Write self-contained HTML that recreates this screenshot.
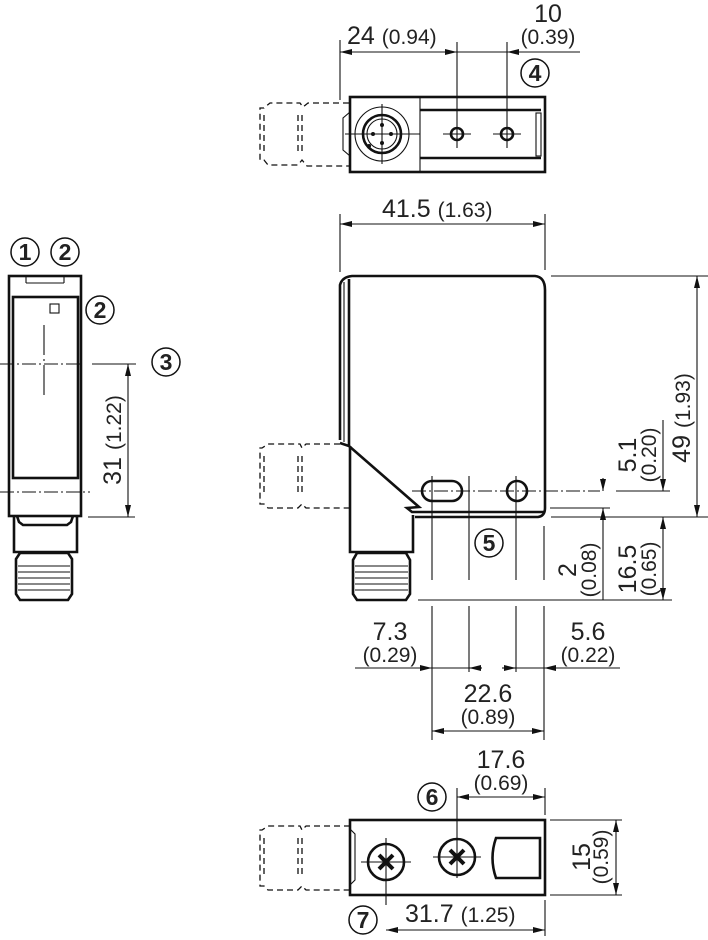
<!DOCTYPE html>
<html><head><meta charset="utf-8"><style>
html,body{margin:0;padding:0;background:#fff}
svg{display:block}
text{font-family:"Liberation Sans",sans-serif;fill:#222}
.b{fill:none;stroke:#111;stroke-width:2.6}
.t{fill:none;stroke:#111;stroke-width:1.1}
.d{fill:none;stroke:#111;stroke-width:1.3;stroke-dasharray:6 4}
.c{fill:none;stroke:#111;stroke-width:1;stroke-dasharray:14 3 2 3}
.n{font-size:25px}
.p{font-size:21px}
.k{fill:#fff;stroke:#111;stroke-width:1.5}
.kt{font-size:23px;font-weight:bold;text-anchor:middle}
</style></head><body>
<svg width="708" height="940" viewBox="0 0 708 940" xmlns="http://www.w3.org/2000/svg">
<defs>
<marker id="a" viewBox="0 0 12 6" refX="12" refY="3" markerWidth="12" markerHeight="6" markerUnits="userSpaceOnUse" orient="auto-start-reverse"><path d="M0,0L12,3L0,6z" fill="#111"/></marker>
</defs>

<!-- ===== TOP VIEW ===== -->
<line class="t" x1="340" y1="40" x2="340" y2="100"/>
<line class="t" x1="457" y1="42" x2="457" y2="148"/>
<line class="t" x1="507" y1="42" x2="507" y2="148"/>
<line class="t" x1="340" y1="52" x2="457" y2="52" marker-start="url(#a)" marker-end="url(#a)"/>
<line class="t" x1="457" y1="52" x2="580" y2="52"/>
<line class="t" x1="580" y1="52" x2="507" y2="52" marker-end="url(#a)"/>
<text class="n" x="347" y="44">24 <tspan class="p">(0.94)</tspan></text>
<text class="n" x="548" y="22" text-anchor="middle">10</text>
<text class="p" x="548" y="44" text-anchor="middle">(0.39)</text>
<circle class="k" cx="535" cy="73" r="14"/><text class="kt" x="535" y="81">4</text>
<rect class="b" x="350" y="97" width="195" height="75"/>
<line class="t" x1="420" y1="97" x2="420" y2="172"/>
<line class="b" x1="420" y1="110" x2="541" y2="110"/>
<line class="b" x1="420" y1="158" x2="541" y2="158"/>
<rect class="t" x="536" y="113" width="5" height="43"/>
<circle class="t" cx="382" cy="134" r="27"/>
<circle class="b" cx="382" cy="134" r="19"/>
<circle class="t" cx="382" cy="134" r="15"/>
<line class="t" x1="345" y1="134" x2="420" y2="134"/>
<line class="t" x1="382" y1="104" x2="382" y2="164"/>
<circle cx="373" cy="134" r="2" fill="#111"/><circle cx="391" cy="134" r="2" fill="#111"/><circle cx="382" cy="125" r="2" fill="#111"/><circle cx="382" cy="143" r="2" fill="#111"/><circle cx="369" cy="146" r="2" fill="#111"/>
<path class="t" d="M350,112 L343,118 L343,150 L350,156"/>
<circle class="b" cx="457" cy="134" r="6"/><line class="t" x1="443" y1="134" x2="471" y2="134"/>
<circle class="b" cx="507" cy="134" r="6"/><line class="t" x1="493" y1="134" x2="521" y2="134"/>
<path class="d" d="M349,103 L308,103 L303,107 L300,103 L270,103 L264,108 L260,108 L260,160 L264,160 L268,165 L298,165 L302,160 L307,166 L349,166"/>
<line class="d" x1="264" y1="115" x2="264" y2="155"/><line class="d" x1="298" y1="115" x2="298" y2="155"/><line class="d" x1="302" y1="115" x2="302" y2="155"/>

<!-- ===== FRONT VIEW ===== -->
<line class="t" x1="340" y1="214" x2="340" y2="272"/>
<line class="t" x1="545" y1="214" x2="545" y2="270"/>
<line class="t" x1="340" y1="224" x2="545" y2="224" marker-start="url(#a)" marker-end="url(#a)"/>
<text class="n" x="382" y="217">41.5 <tspan class="p">(1.63)</tspan></text>
<path class="b" d="M340,440 L340,285 Q342,277 352,276 L535,276 Q545,277 545,290 L545,508 Q545,516 538,517 L415,517"/>
<line class="t" x1="344" y1="282" x2="344" y2="442"/>
<line class="b" x1="349" y1="279" x2="349" y2="446"/>
<path class="b" d="M340,443 L349,446 L419,507 L407,508 L412,512 L545,512"/>
<path class="b" d="M350,446 L350,552 L413,552 L413,515"/>
<path class="b" d="M357,553 L353,560 L353,594 L357,600 L406,600 L410,594 L410,560 L406,553 Z"/>
<line class="t" x1="355" y1="566" x2="408" y2="566"/><line class="t" x1="355" y1="572" x2="408" y2="572"/><line class="t" x1="355" y1="578" x2="408" y2="578"/><line class="t" x1="355" y1="584" x2="408" y2="584"/><line class="t" x1="355" y1="590" x2="408" y2="590"/>
<path class="d" d="M340,444 L306,444 L302,448 L300,444 L268,444 L262,448 L260,448 L260,504 L264,504 L268,508 L298,508 L302,504 L306,508 L349,508"/>
<line class="d" x1="264" y1="456" x2="264" y2="496"/><line class="d" x1="298" y1="456" x2="298" y2="496"/><line class="d" x1="302" y1="456" x2="302" y2="496"/>
<rect class="b" x="422" y="481" width="40" height="20" rx="10"/>
<circle class="b" cx="517" cy="491" r="10"/>
<line class="c" x1="412" y1="491" x2="600" y2="491"/>
<line class="t" x1="616" y1="491" x2="670" y2="491"/>
<line class="t" x1="432" y1="476" x2="432" y2="580"/>
<line class="t" x1="469" y1="476" x2="469" y2="580"/>
<line class="t" x1="516" y1="476" x2="516" y2="580"/>
<line class="t" x1="544" y1="526" x2="544" y2="580"/>
<line class="t" x1="551" y1="276" x2="708" y2="276"/>
<line class="t" x1="551" y1="517" x2="708" y2="517"/>
<line class="t" x1="550" y1="508" x2="610" y2="508"/>
<line class="t" x1="418" y1="600" x2="672" y2="600"/>
<line class="t" x1="697" y1="276" x2="697" y2="517" marker-start="url(#a)" marker-end="url(#a)"/>
<text class="n" transform="translate(690,418) rotate(-90)" text-anchor="middle">49 <tspan class="p">(1.93)</tspan></text>
<line class="t" x1="663" y1="420" x2="663" y2="491" marker-end="url(#a)"/>
<line class="t" x1="663" y1="600" x2="663" y2="517" marker-start="url(#a)" marker-end="url(#a)"/>
<text class="n" transform="translate(636,455) rotate(-90)" text-anchor="middle">5.1</text>
<text class="p" transform="translate(656,455) rotate(-90)" text-anchor="middle">(0.20)</text>
<text class="n" transform="translate(636,569) rotate(-90)" text-anchor="middle">16.5</text>
<text class="p" transform="translate(656,569) rotate(-90)" text-anchor="middle">(0.65)</text>
<line class="t" x1="603" y1="478" x2="603" y2="491" marker-end="url(#a)"/>
<line class="t" x1="603" y1="600" x2="603" y2="508" marker-end="url(#a)"/>
<text class="n" transform="translate(576,570) rotate(-90)" text-anchor="middle">2</text>
<text class="p" transform="translate(596,570) rotate(-90)" text-anchor="middle">(0.08)</text>
<circle class="k" cx="489" cy="543" r="14"/><text class="kt" x="489" y="551">5</text>
<line class="t" x1="432" y1="606" x2="432" y2="740"/>
<line class="t" x1="469" y1="606" x2="469" y2="672"/>
<line class="t" x1="516" y1="606" x2="516" y2="672"/>
<line class="t" x1="544" y1="606" x2="544" y2="740"/>
<line class="t" x1="355" y1="668" x2="432" y2="668" marker-end="url(#a)"/>
<line class="t" x1="432" y1="668" x2="482" y2="668"/>
<line class="t" x1="482" y1="668" x2="469" y2="668" marker-end="url(#a)"/>
<line class="t" x1="502" y1="668" x2="516" y2="668" marker-end="url(#a)"/>
<line class="t" x1="516" y1="668" x2="620" y2="668"/>
<line class="t" x1="620" y1="668" x2="544" y2="668" marker-end="url(#a)"/>
<text class="n" x="390" y="640" text-anchor="middle">7.3</text>
<text class="p" x="390" y="662" text-anchor="middle">(0.29)</text>
<text class="n" x="588" y="640" text-anchor="middle">5.6</text>
<text class="p" x="588" y="662" text-anchor="middle">(0.22)</text>
<line class="t" x1="432" y1="731" x2="544" y2="731" marker-start="url(#a)" marker-end="url(#a)"/>
<text class="n" x="488" y="702" text-anchor="middle">22.6</text>
<text class="p" x="488" y="724" text-anchor="middle">(0.89)</text>

<!-- ===== SIDE VIEW ===== -->
<rect class="b" x="9" y="276" width="72" height="240"/>
<line class="t" x1="26" y1="283" x2="64" y2="283"/><line class="t" x1="26" y1="276" x2="26" y2="283"/><line class="t" x1="64" y1="276" x2="64" y2="283"/>
<rect class="b" x="13" y="297" width="65" height="181"/>
<rect class="t" x="50" y="304" width="9" height="9"/>
<line class="t" x1="44" y1="325" x2="44" y2="395" stroke-dasharray="30 4 2 4"/>
<line class="c" x1="0" y1="364" x2="82" y2="364"/>
<line class="t" x1="92" y1="364" x2="136" y2="364"/>
<line class="c" x1="0" y1="492" x2="90" y2="492"/>
<line class="t" x1="88" y1="517" x2="135" y2="517"/>
<line class="t" x1="128" y1="364" x2="128" y2="517" marker-start="url(#a)" marker-end="url(#a)"/>
<text class="n" transform="translate(121,440) rotate(-90)" text-anchor="middle">31 <tspan class="p">(1.22)</tspan></text>
<path class="b" d="M17,516 L19,522 L23,525 L67,525 L71,522 L73,516"/>
<path class="b" d="M14,516 L14,552 L77,552 L77,516"/>
<path class="b" d="M20,553 L16,559 L16,594 L20,600 L68,600 L72,594 L72,559 L68,553 Z"/>
<line class="t" x1="18" y1="566" x2="70" y2="566"/><line class="t" x1="18" y1="572" x2="70" y2="572"/><line class="t" x1="18" y1="578" x2="70" y2="578"/><line class="t" x1="18" y1="584" x2="70" y2="584"/><line class="t" x1="18" y1="590" x2="70" y2="590"/>
<circle class="k" cx="25" cy="252" r="14"/><text class="kt" x="25" y="260">1</text>
<circle class="k" cx="65" cy="252" r="14"/><text class="kt" x="65" y="260">2</text>
<circle class="k" cx="100" cy="310" r="14"/><text class="kt" x="100" y="318">2</text>
<circle class="k" cx="166" cy="362" r="14"/><text class="kt" x="166" y="370">3</text>

<!-- ===== BOTTOM VIEW ===== -->
<rect class="b" x="350" y="820" width="195" height="75"/>
<path class="t" d="M350,829 L355,834 L355,880 L350,885"/>
<circle class="b" cx="386" cy="862" r="18"/>
<line class="t" x1="361" y1="862" x2="411" y2="862"/><line class="t" x1="386" y1="838" x2="386" y2="905"/>
<path d="M379,855 L393,869 M393,855 L379,869" stroke="#111" stroke-width="4"/>
<circle class="b" cx="457" cy="857" r="18"/>
<line class="t" x1="433" y1="857" x2="481" y2="857"/><line class="t" x1="457" y1="788" x2="457" y2="878"/>
<path d="M450,850 L464,864 M464,850 L450,864" stroke="#111" stroke-width="4"/>
<path class="b" d="M496,838 L540,838 L540,878 L496,878 Q489,858 496,838 Z"/>
<path class="d" d="M350,826 L306,826 L302,830 L300,826 L268,826 L262,830 L260,830 L260,886 L264,886 L268,890 L298,890 L302,886 L306,890 L350,890"/>
<line class="d" x1="264" y1="838" x2="264" y2="878"/><line class="d" x1="298" y1="838" x2="298" y2="878"/><line class="d" x1="302" y1="838" x2="302" y2="878"/>
<line class="t" x1="545" y1="788" x2="545" y2="815"/>
<line class="t" x1="457" y1="797" x2="545" y2="797" marker-start="url(#a)" marker-end="url(#a)"/>
<text class="n" x="501" y="768" text-anchor="middle">17.6</text>
<text class="p" x="501" y="790" text-anchor="middle">(0.69)</text>
<circle class="k" cx="432" cy="797" r="14"/><text class="kt" x="432" y="805">6</text>
<line class="t" x1="550" y1="820" x2="622" y2="820"/>
<line class="t" x1="550" y1="895" x2="622" y2="895"/>
<line class="t" x1="616" y1="820" x2="616" y2="895" marker-start="url(#a)" marker-end="url(#a)"/>
<text class="n" transform="translate(590,857) rotate(-90)" text-anchor="middle">15</text>
<text class="p" transform="translate(608,857) rotate(-90)" text-anchor="middle">(0.59)</text>
<line class="t" x1="545" y1="900" x2="545" y2="936"/>
<line class="t" x1="386" y1="930" x2="545" y2="930" marker-start="url(#a)" marker-end="url(#a)"/>
<text class="n" x="405" y="922">31.7 <tspan class="p">(1.25)</tspan></text>
<circle class="k" cx="363" cy="920" r="14"/><text class="kt" x="363" y="928">7</text>
</svg>
</body></html>
